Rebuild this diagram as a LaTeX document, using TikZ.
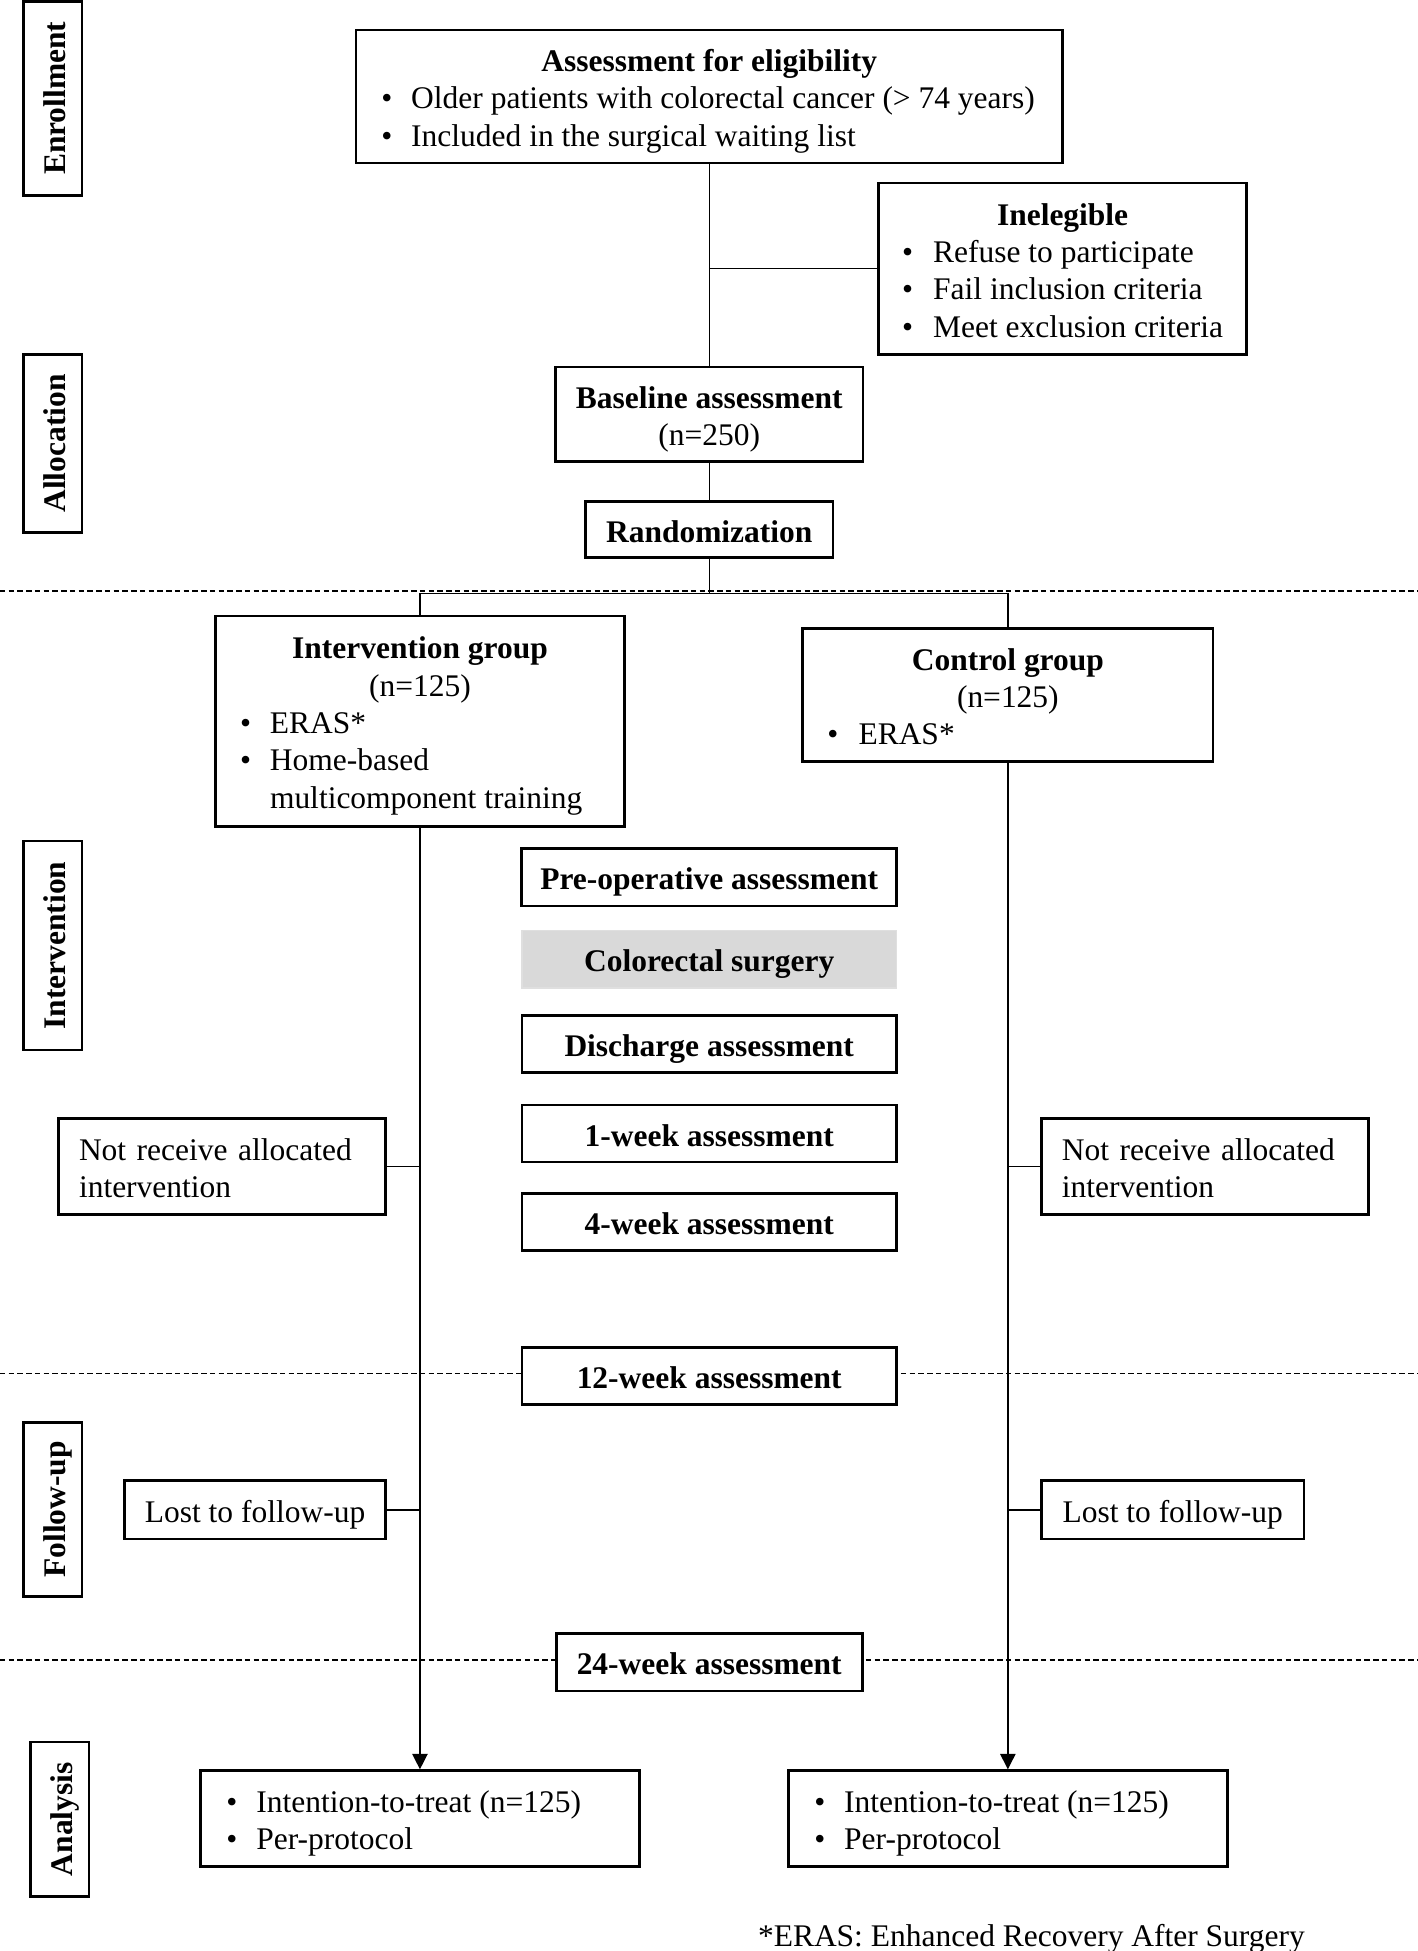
\documentclass[tikz,border=0pt]{standalone}
\usepackage{fontspec}
\setmainfont{Liberation Serif}
\usetikzlibrary{arrows.meta}
\definecolor{surggray}{RGB}{217,217,217}
\newcommand{\tstrut}{\rule{0pt}{16.6pt}}
\newcommand{\bstrut}{\rule[-5.1pt]{0pt}{0pt}}

\begin{document}
\begin{tikzpicture}[font=\fontsize{14.4}{17.1}\selectfont,
    box/.style={draw, line width=1.2pt, fill=white, inner xsep=0.3cm, inner ysep=0pt, align=center},
    single/.style={text height=16.6pt, text depth=5.1pt},
    stagebox/.style={draw, line width=1.2pt, rotate=90, font=\fontsize{14.4}{17.1}\selectfont\bfseries, minimum height=0.94cm, inner sep=0pt, single},
    link/.style={line width=0.6pt},
    sepline/.style={line width=0.6pt, dash pattern=on 2.5pt off 1.5pt}]
    \useasboundingbox (0,0) rectangle (22.78,-31.36);

    %% phase separators
    \draw[sepline] (0,-9.5) -- (22.78,-9.5)
                   (0,-22.08) -- (22.78,-22.08)
                   (0,-26.68) -- (22.78,-26.68);

    %% stages
    \node[stagebox, minimum width=3.12cm] (enroll) at (0.85,-1.58) {Enrollment};
    \node[stagebox, minimum width=2.86cm] (alloc) at (0.85,-7.13) {Allocation};
    \node[stagebox, minimum width=3.36cm] (interv) at (0.85,-15.2) {Intervention};
    \node[stagebox, minimum width=2.8cm] (follow) at (0.85,-24.26) {Follow-up};
    \node[stagebox, minimum width=2.48cm] (analys) at (0.96,-29.24) {Analysis};

    %% enrollment and allocation
    \node[box, minimum width=11.36cm, minimum height=2.14cm] (eligib) at (11.4,-1.55)
        {\begin{tabular}{@{}p{0.48cm}@{}p{10.06cm}@{}}
         \multicolumn{2}{@{}c@{}}{\tstrut\textbf{Assessment for eligibility}}\\
         \textbullet & Older patients with colorectal cancer (> 74 years)\\
         \textbullet & Included in the surgical waiting list
         \end{tabular}};
    \node[box, minimum width=5.92cm, minimum height=2.76cm] (inelig) at (17.08,-4.32)
        {\begin{tabular}{@{}p{0.5cm}@{}p{4.66cm}@{}}
         \multicolumn{2}{@{}c@{}}{\tstrut\textbf{Inelegible}}\\
         \textbullet & Refuse to participate\\
         \textbullet & Fail inclusion criteria\\
         \textbullet & Meet exclusion criteria
         \end{tabular}};
    \node[box, minimum width=4.94cm, minimum height=1.52cm] (baseline) at (11.4,-6.66)
        {\tstrut\textbf{Baseline assessment}\\(n=250)\bstrut};
    \node[box, single, minimum width=3.98cm, minimum height=0.9cm] (random) at (11.4,-8.51)
        {\textbf{Randomization}};

    %% groups
    \node[box, minimum width=6.58cm, minimum height=3.38cm] (intgrp) at (6.75,-11.59)
        {\begin{tabular}{@{}p{0.48cm}@{}p{5.3cm}@{}}
         \multicolumn{2}{@{}c@{}}{\tstrut\textbf{Intervention group}}\\
         \multicolumn{2}{@{}c@{}}{(n=125)}\\
         \textbullet & ERAS*\\
         \textbullet & Home-based\newline multicomponent training
         \end{tabular}};
    \node[box, minimum width=6.6cm, minimum height=2.14cm] (ctlgrp) at (16.2,-11.17)
        {\begin{tabular}{@{}p{0.5cm}@{}p{5.3cm}@{}}
         \multicolumn{2}{@{}c@{}}{\tstrut\textbf{Control group}}\\
         \multicolumn{2}{@{}c@{}}{(n=125)}\\
         \textbullet & ERAS*
         \end{tabular}};

    %% assessments
    \node[box, single, minimum width=6.02cm, minimum height=0.92cm] (preop) at (11.4,-14.1) {\textbf{Pre-operative assessment}};
    \node[box, single, draw=surggray!85, line width=0.6pt, fill=surggray, minimum width=6.02cm, minimum height=0.92cm] (surgery) at (11.4,-15.42) {\textbf{Colorectal surgery}};
    \node[box, single, minimum width=6.02cm, minimum height=0.92cm] (dischg) at (11.4,-16.78) {\textbf{Discharge assessment}};
    \node[box, single, minimum width=6.02cm, minimum height=0.92cm] (wk1) at (11.4,-18.22) {\textbf{1-week assessment}};
    \node[box, single, minimum width=6.02cm, minimum height=0.92cm] (wk4) at (11.4,-19.64) {\textbf{4-week assessment}};
    \node[box, single, minimum width=6.02cm, minimum height=0.92cm] (wk12) at (11.4,-22.12) {\textbf{12-week assessment}};
    \node[box, single, minimum width=4.92cm, minimum height=0.92cm] (wk24) at (11.4,-26.72) {\textbf{24-week assessment}};

    %% losses
    \node[box, minimum width=5.26cm, minimum height=1.54cm, text width=4.6cm, align=left] (notrec1) at (3.57,-18.75)
        {\tstrut Not receive allocated\\intervention\bstrut};
    \node[box, minimum width=5.26cm, minimum height=1.54cm, text width=4.6cm, align=left] (notrec2) at (19.37,-18.75)
        {\tstrut Not receive allocated\\intervention\bstrut};
    \node[box, single, minimum width=4.2cm, minimum height=0.94cm] (lost1) at (4.1,-24.27) {Lost to follow-up};
    \node[box, single, minimum width=4.22cm, minimum height=0.94cm] (lost2) at (18.85,-24.27) {Lost to follow-up};

    %% analysis
    \node[box, minimum width=7.06cm, minimum height=1.54cm] (itt1) at (6.75,-29.23)
        {\begin{tabular}{@{}p{0.48cm}@{}p{5.74cm}@{}}
         \tstrut\textbullet & Intention-to-treat (n=125)\\
         \textbullet & Per-protocol
         \end{tabular}};
    \node[box, minimum width=7.06cm, minimum height=1.54cm] (itt2) at (16.2,-29.23)
        {\begin{tabular}{@{}p{0.48cm}@{}p{5.74cm}@{}}
         \tstrut\textbullet & Intention-to-treat (n=125)\\
         \textbullet & Per-protocol
         \end{tabular}};

    \node[anchor=base west] (note) at (12.06,-31.28) {*ERAS: Enhanced Recovery After Surgery};

    %% connectors
    \draw[link] (eligib.south) -- (baseline.north)
                (inelig.west) -- (inelig.west -| eligib.south)
                (baseline.south) -- (random.north);
    \draw[link] (random.south) -- ++(0,-0.56) -| (intgrp.north);
    \draw[link] (random.south) -- ++(0,-0.56) -| (ctlgrp.north);
    \draw[link, -{Triangle[width=7pt,length=7pt]}] (intgrp.south) -- (itt1.north);
    \draw[link, -{Triangle[width=7pt,length=7pt]}] (ctlgrp.south) -- (itt2.north);
    \draw[link] (notrec1.east) -- (notrec1.east -| intgrp.south)
                (lost1.east) -- (lost1.east -| intgrp.south)
                (notrec2.west) -- (notrec2.west -| ctlgrp.south)
                (lost2.west) -- (lost2.west -| ctlgrp.south);
\end{tikzpicture}
\end{document}
